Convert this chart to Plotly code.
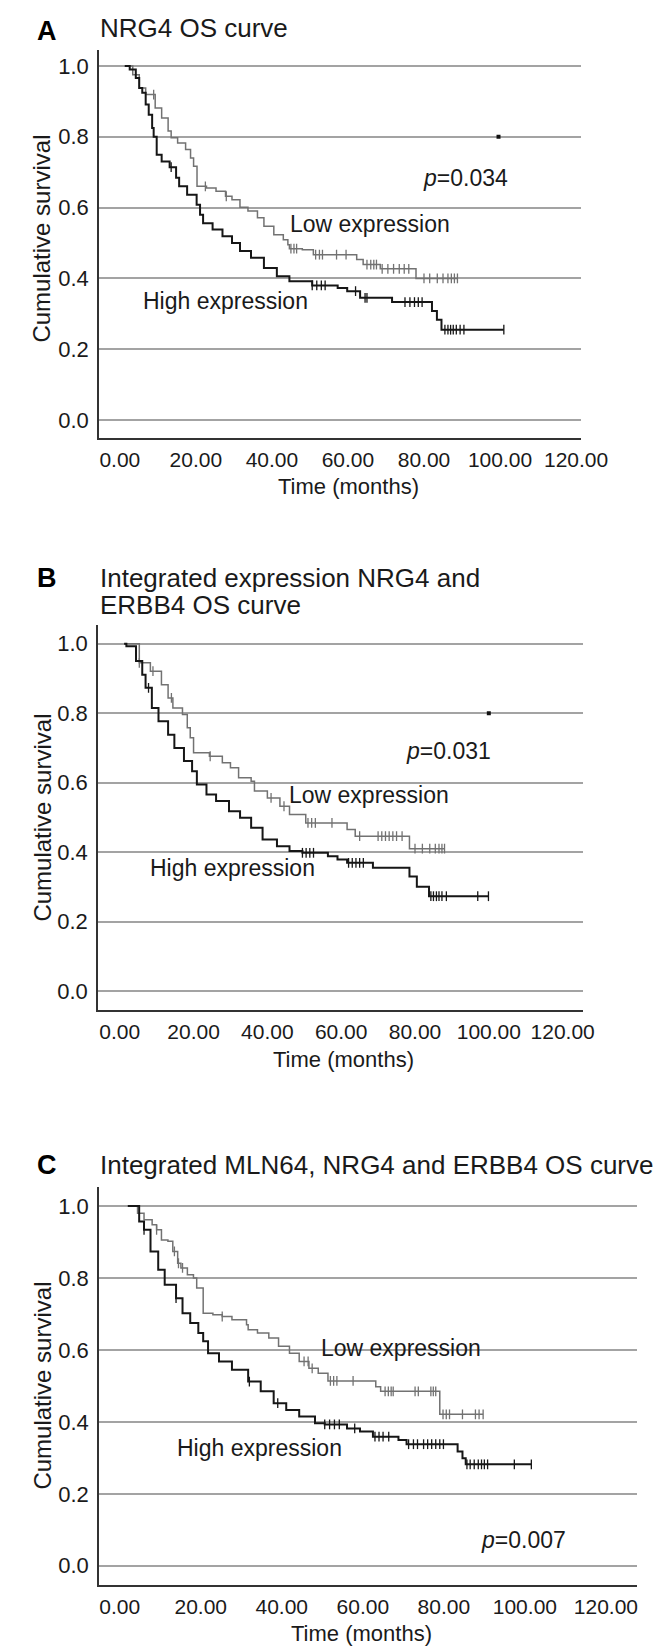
import numpy as np
import plotly.graph_objects as go

# ---------------- data ----------------
x_ticks = [0, 20, 40, 60, 80, 100, 120]
y_ticks = [0.0, 0.2, 0.4, 0.6, 0.8, 1.0]

# Panel A: NRG4
a_high_t = [1.3, 2.6, 4.2, 5.1, 5.9, 6.8, 7.6, 8.5, 8.9, 9.7, 11.0, 13.1, 14.8, 15.6, 17.7, 20.2, 21.1, 21.9,
            24.4, 27.0, 29.5, 31.6, 34.5, 37.9, 41.3, 44.6, 50.6, 57.3, 59.8, 63.2, 71.6, 82.1, 83.4, 84.6, 101.0]
a_high_s = [1.0, 0.99, 0.966, 0.938, 0.924, 0.891, 0.862, 0.825, 0.80, 0.749, 0.73, 0.714, 0.684, 0.66, 0.636,
            0.608, 0.58, 0.556, 0.538, 0.519, 0.50, 0.477, 0.458, 0.429, 0.406, 0.392, 0.38, 0.373, 0.364, 0.345,
            0.333, 0.308, 0.283, 0.255, 0.255]
a_high_cens = [13.5, 50.6, 51.8, 53.0, 54.0, 62.0, 64.5, 65.0, 75.0, 76.3, 77.5, 78.5, 79.5, 85.5, 86.3, 87.0,
               87.7, 88.5, 89.5, 90.5, 101.0]
a_low_t = [1.3, 3.4, 5.1, 6.8, 9.3, 11.0, 12.7, 13.5, 15.2, 17.3, 18.6, 19.4, 20.3, 22.8, 25.3, 27.8, 29.5, 31.6,
           33.7, 36.2, 37.9, 40.5, 43.0, 44.2, 44.6, 48.0, 50.9, 62.3, 64.0, 68.5, 77.9, 88.8]
a_low_s = [1.0, 0.975, 0.938, 0.919, 0.881, 0.853, 0.816, 0.797, 0.782, 0.764, 0.74, 0.717, 0.66, 0.655, 0.646,
           0.632, 0.622, 0.601, 0.59, 0.571, 0.547, 0.523, 0.509, 0.495, 0.484, 0.481, 0.467, 0.453, 0.439, 0.427,
           0.40, 0.40]
a_low_cens = [8.9, 22.5, 28.0, 45.0, 45.8, 46.5, 51.5, 52.5, 53.3, 57.0, 59.5, 65.0, 66.0, 66.8, 67.5, 69.0, 70.5,
              72.0, 73.5, 74.8, 76.0, 80.0, 81.5, 83.5, 85.0, 86.3, 87.2, 88.0, 88.8]
a_dot = (99.6, 0.8)
a_p = "<i>p</i>=0.034"

# Panel B: NRG4 + ERBB4
b_high_t = [1.2, 1.8, 4.4, 6.1, 7.0, 8.7, 10.5, 13.1, 14.8, 17.4, 19.6, 20.9, 23.5, 26.1, 29.6, 32.6, 35.6, 38.7,
            42.6, 46.0, 49.5, 56.4, 59.0, 61.6, 68.6, 78.5, 80.5, 83.8, 99.9]
b_high_s = [1.0, 0.993, 0.95, 0.911, 0.873, 0.815, 0.777, 0.738, 0.70, 0.662, 0.633, 0.595, 0.566, 0.547, 0.518,
            0.499, 0.47, 0.436, 0.417, 0.403, 0.398, 0.388, 0.379, 0.369, 0.355, 0.33, 0.30, 0.273, 0.273]
b_high_cens = [7.8, 49.5, 50.5, 51.5, 52.5, 62.0, 63.0, 64.0, 65.0, 66.0, 84.3, 85.0, 85.8, 86.5, 87.3, 88.5,
               97.0, 99.9]
b_low_t = [1.2, 5.3, 8.3, 11.3, 13.1, 14.4, 17.0, 18.3, 19.1, 20.0, 24.3, 27.8, 30.0, 32.2, 35.6, 36.5, 40.0,
           43.4, 46.0, 50.4, 61.6, 63.8, 78.5, 88.0]
b_low_s = [1.0, 0.945, 0.921, 0.882, 0.844, 0.815, 0.796, 0.758, 0.729, 0.686, 0.676, 0.657, 0.643, 0.614, 0.604,
           0.576, 0.556, 0.532, 0.508, 0.484, 0.465, 0.446, 0.41, 0.41]
b_low_cens = [5.3, 9.0, 14.0, 24.5, 41.0, 44.5, 51.0, 52.0, 53.0, 57.5, 65.0, 70.0, 71.0, 72.0, 73.0, 74.0, 75.0,
              76.5, 80.0, 82.0, 84.0, 85.5, 86.5, 87.3, 88.0]
b_dot = (100.0, 0.8)
b_p = "<i>p</i>=0.031"

# Panel C: MLN64 + NRG4 + ERBB4
c_high_t = [2.0, 4.8, 6.0, 7.6, 9.5, 11.1, 13.9, 15.5, 17.4, 19.4, 20.6, 21.8, 24.5, 27.7, 31.7, 34.8, 38.0, 41.1,
            44.3, 48.2, 50.6, 56.1, 59.3, 62.5, 68.8, 70.8, 83.4, 84.6, 85.4, 101.6]
c_high_s = [1.0, 0.957, 0.934, 0.874, 0.823, 0.781, 0.744, 0.702, 0.675, 0.647, 0.624, 0.591, 0.568, 0.545, 0.512,
            0.485, 0.452, 0.433, 0.415, 0.396, 0.393, 0.382, 0.373, 0.359, 0.35, 0.338, 0.318, 0.299, 0.282, 0.282]
c_high_cens = [6.0, 13.9, 32.0, 39.0, 50.6, 51.8, 53.0, 54.2, 58.0, 63.0, 64.0, 65.0, 66.4, 71.3, 72.5, 73.5, 75.0,
               76.0, 77.0, 78.0, 79.0, 79.9, 85.7, 86.5, 87.5, 88.5, 89.3, 90.0, 90.8, 97.4, 101.6]
c_low_t = [2.0, 4.4, 6.0, 8.0, 9.1, 10.3, 11.9, 13.1, 14.3, 15.1, 16.7, 18.2, 19.0, 20.6, 23.0, 25.3, 27.7, 31.3,
           31.7, 34.0, 36.8, 39.2, 41.9, 44.3, 46.7, 49.0, 51.4, 63.2, 64.4, 79.0, 89.7]
c_low_s = [1.0, 0.98, 0.962, 0.948, 0.934, 0.906, 0.902, 0.874, 0.841, 0.828, 0.809, 0.80, 0.772, 0.702, 0.698,
           0.693, 0.684, 0.67, 0.656, 0.647, 0.633, 0.61, 0.591, 0.568, 0.549, 0.535, 0.514, 0.498, 0.485, 0.421,
           0.421]
c_low_cens = [9.1, 13.5, 14.5, 15.5, 25.3, 45.5, 46.5, 47.5, 52.0, 52.8, 53.6, 57.6, 65.5, 66.3, 67.0, 67.5, 72.9,
              73.7, 76.8, 77.4, 78.0, 79.8, 80.6, 81.4, 84.6, 87.8, 88.7, 89.7]
c_p = "<i>p</i>=0.007"

panel_letters = ["A", "B", "C"]
panel_titles = [["NRG4 OS curve"],
                ["Integrated expression NRG4 and", "ERBB4 OS curve"],
                ["Integrated MLN64, NRG4 and ERBB4 OS curve"]]
low_label = "Low expression"
high_label = "High expression"
x_title = "Time (months)"
y_title = "Cumulative survival"

# ---------------- layout geometry (pixels) ----------------
W, H = 672, 1652
FONT = "Liberation Sans, Arial, Helvetica, sans-serif"
BLACK = "#161616"
GRAY = "#727272"
TXT = "#1a1a1a"

panels = [
    dict(x0=95, x1=597, ytop=42, ybot=430, xr=[-5.43, 121.3], yr=[-0.0508, 1.045],
         title_y=[20], letter_y=23, xt=(355, 478), yt=(35, 231),
         high=(a_high_t, a_high_s, a_high_cens), low=(a_low_t, a_low_s, a_low_cens), dot=a_dot,
         p=(a_p, 90.8, 0.684), lowlab=(65.9, 0.555), highlab=(27.7, 0.336)),
    dict(x0=94, x1=599, ytop=617, ybot=1002, xr=[-5.83, 125.5], yr=[-0.0547, 1.054],
         title_y=[570, 597], letter_y=570, xt=(350, 1051), yt=(35, 810),
         high=(b_high_t, b_high_s, b_high_cens), low=(b_low_t, b_low_s, b_low_cens), dot=b_dot,
         p=(b_p, 89.0, 0.69), lowlab=(67.5, 0.565), highlab=(30.6, 0.355)),
    dict(x0=95, x1=655, ytop=1179, ybot=1577, xr=[-5.07, 127.6], yr=[-0.0534, 1.053],
         title_y=[1157], letter_y=1157, xt=(368, 1625), yt=(35, 1378),
         high=(c_high_t, c_high_s, c_high_cens), low=(c_low_t, c_low_s, c_low_cens), dot=None,
         p=(c_p, 99.7, 0.072), lowlab=(69.5, 0.605), highlab=(34.6, 0.327)),
]


def px(x):
    return x / W


def py(y):
    return 1 - y / H


def step_at(ts, ss, tc):
    idx = np.searchsorted(np.asarray(ts), np.asarray(tc), side="right") - 1
    idx = np.clip(idx, 0, len(ss) - 1)
    return np.asarray(ss)[idx]


fig = go.Figure()
annotations = []

for i, p in enumerate(panels):
    n = "" if i == 0 else str(i + 1)
    xa, ya = "x" + n, "y" + n
    for (ts, ss, cens), col, w in [(p["low"], GRAY, 1.5), (p["high"], BLACK, 2.0)]:
        fig.add_trace(go.Scatter(x=ts, y=ss, mode="lines", line=dict(color=col, width=w, shape="hv"),
                                 xaxis=xa, yaxis=ya, showlegend=False, hoverinfo="skip"))
        fig.add_trace(go.Scatter(x=cens, y=step_at(ts, ss, cens), mode="markers",
                                 marker=dict(symbol="line-ns", size=7, color=col, line=dict(color=col, width=1.3)),
                                 xaxis=xa, yaxis=ya, showlegend=False, hoverinfo="skip"))
    if p["dot"] is not None:
        fig.add_trace(go.Scatter(x=[p["dot"][0]], y=[p["dot"][1]], mode="markers",
                                 marker=dict(symbol="square", size=4, color="#111"),
                                 xaxis=xa, yaxis=ya, showlegend=False, hoverinfo="skip"))

    fig.layout["xaxis" + n] = dict(
        domain=[px(p["x0"]), px(p["x1"])], range=p["xr"], anchor=ya,
        tickvals=x_ticks, tickformat=".2f", showgrid=False, zeroline=False,
        showline=True, linecolor="#333", linewidth=2, ticks="",
        tickfont=dict(family=FONT, size=21, color=TXT), ticklabelstandoff=2)
    fig.layout["yaxis" + n] = dict(
        domain=[py(p["ybot"]), py(p["ytop"])], range=p["yr"], anchor=xa,
        tickvals=y_ticks, tickformat=".1f", showgrid=True, gridcolor="#a3a3a3", gridwidth=2,
        zeroline=False, showline=True, linecolor="#333", linewidth=2, ticks="",
        tickfont=dict(family=FONT, size=22, color=TXT), ticklabelstandoff=4)

    # panel letter and title
    annotations.append(dict(text="<b>%s</b>" % panel_letters[i], x=px(28), y=py(p["letter_y"]),
                            xref="paper", yref="paper", xanchor="left", yanchor="middle", showarrow=False,
                            font=dict(family=FONT, size=27, color="#000")))
    for line, yy in zip(panel_titles[i], p["title_y"]):
        annotations.append(dict(text=line, x=px(94), y=py(yy), xref="paper", yref="paper",
                                xanchor="left", yanchor="middle", showarrow=False,
                                font=dict(family=FONT, size=26, color=TXT)))
    # axis titles
    annotations.append(dict(text=x_title, x=px(p["xt"][0]), y=py(p["xt"][1]), xref="paper", yref="paper",
                            xanchor="center", yanchor="middle", showarrow=False,
                            font=dict(family=FONT, size=22, color=TXT)))
    annotations.append(dict(text=y_title, x=px(p["yt"][0]), y=py(p["yt"][1]), xref="paper", yref="paper",
                            xanchor="center", yanchor="middle", showarrow=False, textangle=-90,
                            font=dict(family=FONT, size=24, color=TXT)))
    # curve labels and p value
    annotations.append(dict(text=low_label, x=p["lowlab"][0], y=p["lowlab"][1], xref=xa, yref=ya,
                            xanchor="center", yanchor="middle", showarrow=False,
                            font=dict(family=FONT, size=23, color=TXT)))
    annotations.append(dict(text=high_label, x=p["highlab"][0], y=p["highlab"][1], xref=xa, yref=ya,
                            xanchor="center", yanchor="middle", showarrow=False,
                            font=dict(family=FONT, size=23, color=TXT)))
    annotations.append(dict(text=p["p"][0], x=p["p"][1], y=p["p"][2], xref=xa, yref=ya,
                            xanchor="center", yanchor="middle", showarrow=False,
                            font=dict(family=FONT, size=23, color=TXT)))

fig.update_layout(width=W, height=H, margin=dict(l=0, r=0, t=0, b=0),
                  paper_bgcolor="white", plot_bgcolor="white", annotations=annotations,
                  font=dict(family=FONT, color=TXT))

fig.write_html("out.html")
